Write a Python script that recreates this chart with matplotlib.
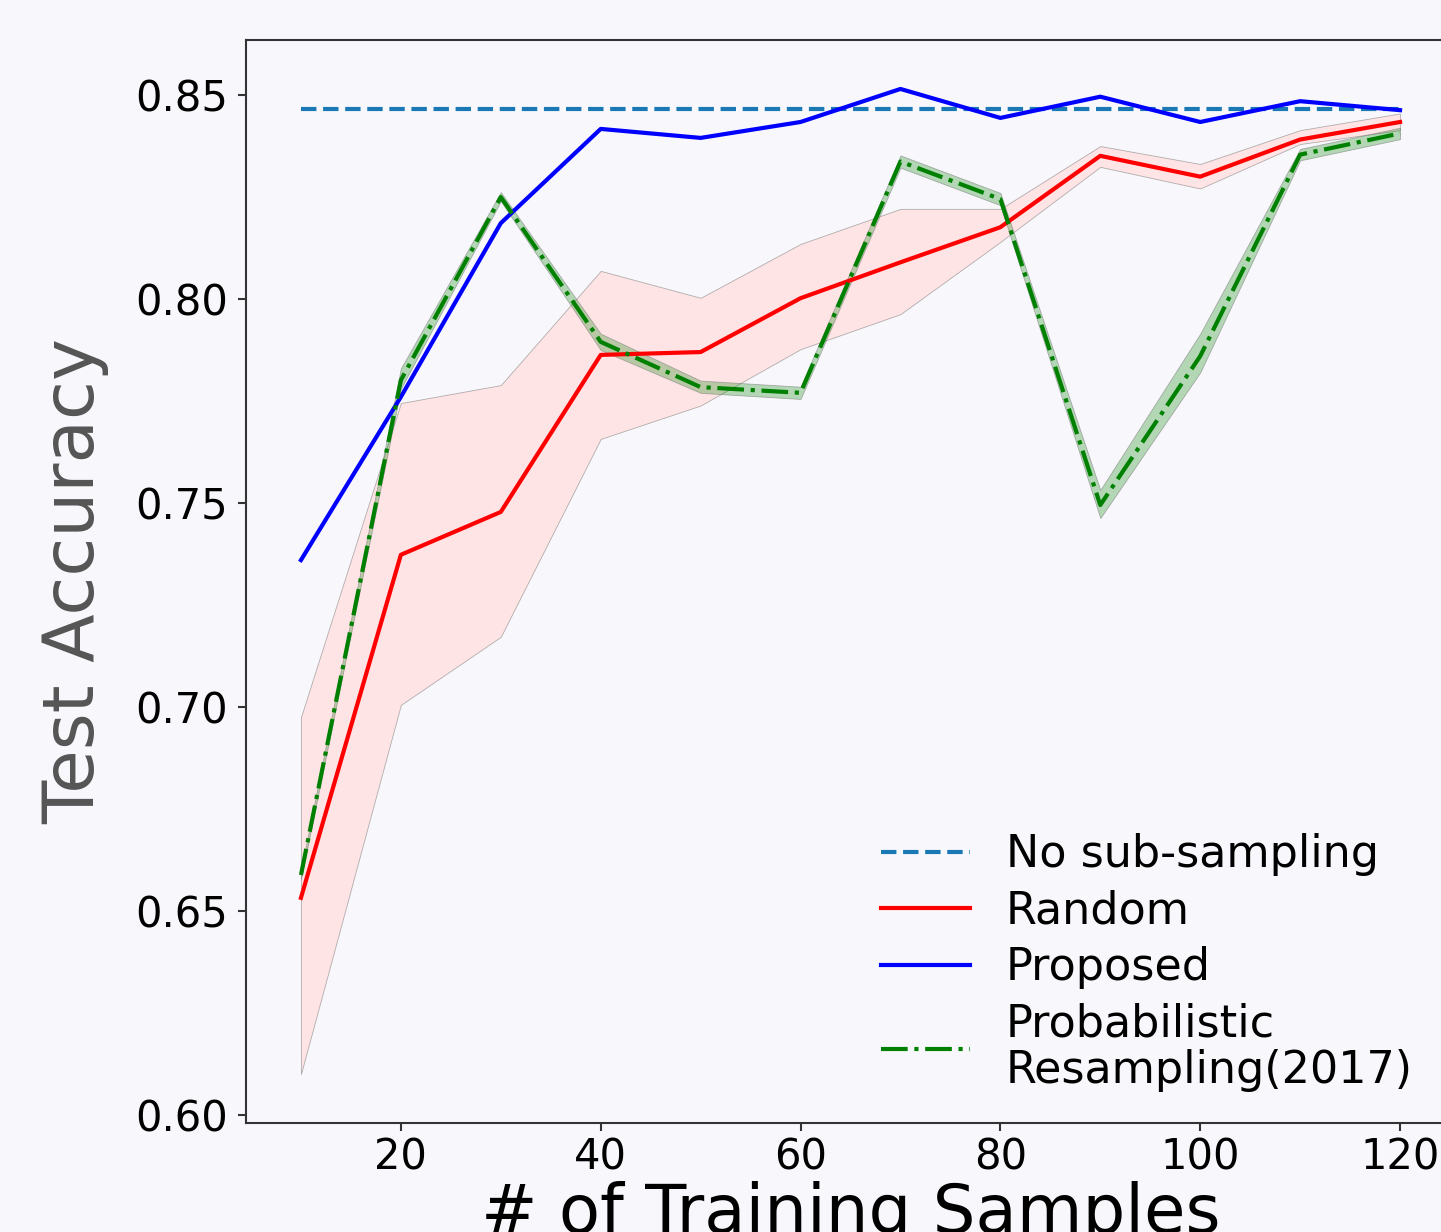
import matplotlib
matplotlib.use("Agg")
import matplotlib.pyplot as plt
import numpy as np

# ---- data ----
n_samples = [10, 20, 30, 40, 50, 60, 70, 80, 90, 100, 110, 120]
no_subsampling = 0.8465
proposed = [0.736, 0.776, 0.8186, 0.8417, 0.8395, 0.8434, 0.8515, 0.8444, 0.8496, 0.8434, 0.8485, 0.8463]
random_mean = [0.6532, 0.7373, 0.7478, 0.7863, 0.7870, 0.8002, 0.8090, 0.8176, 0.8351, 0.8300, 0.8391, 0.8434]
random_low = [0.6100, 0.7005, 0.7172, 0.7657, 0.7739, 0.7877, 0.7963, 0.8140, 0.8324, 0.8271, 0.8380, 0.8414]
random_high = [0.6975, 0.7745, 0.7789, 0.8069, 0.8003, 0.8135, 0.8221, 0.8221, 0.8375, 0.8331, 0.8414, 0.8455]
prob_mean = [0.6588, 0.7801, 0.8250, 0.7895, 0.7784, 0.7770, 0.8337, 0.8245, 0.7495, 0.7860, 0.8354, 0.8406]
prob_low = [0.6578, 0.7780, 0.8240, 0.7875, 0.7770, 0.7755, 0.8322, 0.8230, 0.7463, 0.7820, 0.8340, 0.8392]
prob_high = [0.6598, 0.7830, 0.8262, 0.7915, 0.7800, 0.7785, 0.8352, 0.8260, 0.7532, 0.7915, 0.8368, 0.8420]
labels = ["No sub-sampling", "Random", "Proposed", "Probabilistic\nResampling(2017)"]
xlabel = "# of Training Samples"
ylabel = "Test Accuracy"

bg = "#f8f8fc"
plt.rcParams['font.family'] = ['DejaVu Sans']

fig = plt.figure(figsize=(14.41, 12.32), dpi=100, facecolor=bg)
ax = fig.add_axes([246/1441, 1 - 1123/1232, (1455-246)/1441, (1123-40)/1232])
ax.set_facecolor(bg)

x = np.array(n_samples)
ax.plot(x, [no_subsampling]*len(x), linestyle='--', color='#1a78b4', lw=3, label=labels[0])
ax.fill_between(x, random_low, random_high, facecolor='#ffe4e5', edgecolor=(0.5, 0.5, 0.5, 0.6), lw=0.6)
ax.plot(x, random_mean, color='red', lw=3, label=labels[1])
ax.plot(x, proposed, color='blue', lw=3, label=labels[2])
ax.fill_between(x, prob_low, prob_high, facecolor=(0, 0.5, 0, 0.28), edgecolor=(0.5, 0.5, 0.5, 0.6), lw=0.6)
ax.plot(x, prob_mean, linestyle='-.', color='green', lw=3, label=labels[3])

ax.set_xlim(4.5, 125.5)
ax.set_ylim(0.598, 0.8635)
ax.set_xticks([20, 40, 60, 80, 100, 120])
ax.set_yticks([0.60, 0.65, 0.70, 0.75, 0.80, 0.85])
ax.set_yticklabels(["0.60", "0.65", "0.70", "0.75", "0.80", "0.85"])

for s in ax.spines.values():
    s.set_color('#333333')
    s.set_linewidth(1.5)
ax.tick_params(axis='both', labelsize=30, length=6, width=1.5, color='#333333')
ax.tick_params(axis='y', pad=7)
ax.tick_params(axis='x', pad=4)

ax.set_xlabel(xlabel, fontsize=48.5, color='black')
ax.set_ylabel(ylabel, fontsize=51, color='#555555')
ax.yaxis.set_label_coords(-0.113, 0.5)
ax.xaxis.set_label_coords(0.5, -0.054)

leg = ax.legend(loc='lower right', bbox_to_anchor=(0.9909, 0.0), fontsize=32,
                frameon=False, labelspacing=0.3, borderaxespad=0.3)
for t in leg.get_texts():
    t.set_linespacing(1.1)

fig.savefig("out.png", dpi=100, facecolor=bg)
